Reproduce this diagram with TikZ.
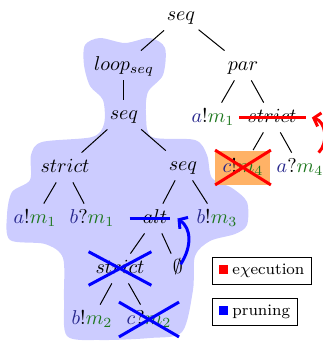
\documentclass[tikz,border=0pt]{standalone}
\usetikzlibrary{arrows.meta}
\newlength{\du}
\setlength{\du}{0.5pt}
\definecolor{agentcolor}{rgb}{0.150000, 0.150000, 0.550000}
\definecolor{msgcolor}{rgb}{0.120000, 0.470000, 0.120000}
\newcommand{\ag}[1]{\textcolor{agentcolor}{#1}}
\newcommand{\ms}[1]{\textcolor{msgcolor}{#1}}
\tikzset{
  term/.style={anchor=base, inner xsep=1.5pt, inner ysep=2.5pt, text height=7pt, text depth=2.5pt},
  branch/.style={line width=0.5pt},
  execline/.style={draw=red, line width=1.5pt},
  pruneline/.style={draw=blue, line width=1.5pt},
  barb/.style={-{Straight Barb[length=3pt,width=7pt]}},
  legendbox/.style={draw, line width=0.5pt, anchor=west, minimum height=13.5pt, inner xsep=3.5pt, inner ysep=0pt, font=\footnotesize}
}
\begin{document}
\begin{tikzpicture}
\pgftransformxscale{1.000000}
\pgftransformyscale{-1.000000}
\useasboundingbox (0\du,0\du) rectangle (323\du,345\du);
\definecolor{blobcolor}{rgb}{0.800000, 0.800000, 1.000000}
\definecolor{boxcolor}{rgb}{1.000000, 0.700000, 0.400000}
% pruned part
\fill[blobcolor] plot[smooth cycle] coordinates {
  (85\du,45\du) (100\du,38\du) (125\du,43\du) (150\du,38\du) (165\du,48\du)
  (163\du,75\du) (148\du,92\du) (146\du,115\du) (152\du,137\du) (195\du,140\du)
  (207\du,155\du) (212\du,178\du) (232\du,188\du) (247\du,202\du) (247\du,225\du)
  (235\du,234\du) (210\du,241\du) (195\du,256\du) (193\du,290\du) (182\du,332\du)
  (150\du,338\du) (100\du,340\du) (67\du,336\du) (64\du,300\du) (63\du,258\du)
  (45\du,244\du) (10\du,240\du) (7\du,215\du) (12\du,192\du) (30\du,180\du)
  (31\du,155\du) (42\du,142\du) (92\du,137\du) (104\du,124\du) (103\du,100\du)
  (90\du,86\du) (84\du,65\du)};

\node[term] (root) at (181\du,20\du) {$seq$};
\node[term] (loop) at (124\du,70\du) {$loop_{seq}$};
\node[term] (par) at (243\du,70\du) {$par$};
\node[term] (seqa) at (124\du,119\du) {$seq$};
\node[term] (amone) at (213\du,122\du) {$\ag{a}!\ms{m_1}$};
\node[term] (strictr) at (272\du,122\du) {$strict$};
\node[term] (strictl) at (65\du,172\du) {$strict$};
\node[term] (seqb) at (183\du,170\du) {$seq$};
\node[term, fill=boxcolor, minimum width=27.5pt, minimum height=17pt] (cmfour) at (243\du,172\du) {$\ag{c}!\ms{m_4}$};
\node[term] (aqmfour) at (300\du,172\du) {$\ag{a}?\ms{m_4}$};
\node[term] (amonel) at (35\du,223\du) {$\ag{a}!\ms{m_1}$};
\node[term] (bqmone) at (92\du,223\du) {$\ag{b}?\ms{m_1}$};
\node[term] (alt) at (155\du,223\du) {$alt$};
\node[term] (bmthree) at (217\du,223\du) {$\ag{b}!\ms{m_3}$};
\node[term] (strictb) at (120\du,273\du) {$strict$};
\node[term] (empty) at (178\du,273\du) {$\emptyset$};
\node[term] (bmtwo) at (92\du,324\du) {$\ag{b}!\ms{m_2}$};
\node[term] (cqmtwo) at (149\du,324\du) {$\ag{c}?\ms{m_2}$};

\draw[branch] (root) -- (loop);
\draw[branch] (root) -- (par);
\draw[branch] (loop) -- (seqa);
\draw[branch] (seqa) -- (strictl);
\draw[branch] (seqa) -- (seqb);
\draw[branch] (strictl) -- (amonel);
\draw[branch] (strictl) -- (bqmone);
\draw[branch] (seqb) -- (alt);
\draw[branch] (seqb) -- (bmthree);
\draw[branch] (alt) -- (strictb);
\draw[branch] (alt) -- (empty);
\draw[branch] (strictb) -- (bmtwo);
\draw[branch] (strictb) -- (cqmtwo);
\draw[branch] (par) -- (amone);
\draw[branch] (par) -- (strictr);
\draw[branch] (strictr) -- (cmfour);
\draw[branch] (strictr) -- (aqmfour);

% execution
\draw[execline, shorten <=-5\du, shorten >=-6\du] (strictr.west) -- (strictr.east);
\draw[execline] (cmfour.north west) -- (cmfour.south east);
\draw[execline] (cmfour.south west) -- (cmfour.north east);
\draw[execline, barb] ([xshift=-8\du]aqmfour.north east) .. controls +(10\du,-10\du) and +(14\du,4\du) .. ([xshift=12\du]strictr.east);

% pruning
\draw[pruneline, shorten <=-10\du] (alt.west) -- (alt.east);
\draw[pruneline, shorten <=-4\du, shorten >=-4\du] (strictb.north west) -- (strictb.south east);
\draw[pruneline, shorten <=-4\du, shorten >=-4\du] (strictb.south west) -- (strictb.north east);
\draw[pruneline, shorten <=-5\du, shorten >=-5\du] (cqmtwo.north west) -- (cqmtwo.south east);
\draw[pruneline, shorten <=-5\du, shorten >=-5\du] (cqmtwo.south west) -- (cqmtwo.north east);
\draw[pruneline, barb, shorten <=5\du] (empty.center) .. controls +(14\du,-22\du) and +(14\du,10\du) .. ([xshift=7\du]alt.east);

\node[legendbox] (execkey) at (212\du,270.5\du) {\textcolor{red}{\rule{4.5pt}{4.5pt}}\hspace{2pt}e$\chi$ecution};
\node[legendbox] (prunekey) at (212\du,311.5\du) {\textcolor{blue}{\rule{4.5pt}{4.5pt}}\hspace{2pt}pruning};
\end{tikzpicture}
\end{document}
